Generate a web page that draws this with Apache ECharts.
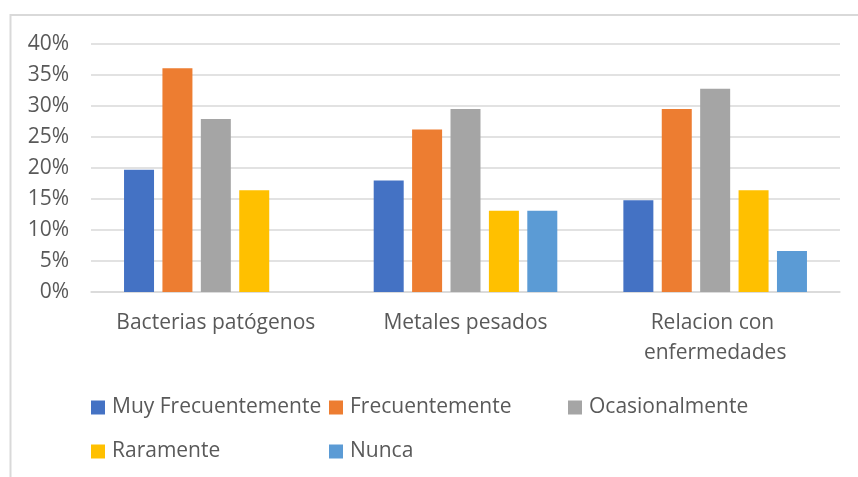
<!DOCTYPE html>
<html>
<head>
<meta charset="utf-8">
<script src="https://cdn.jsdelivr.net/npm/echarts@6/dist/echarts.min.js"></script>
<style>
  html, body { margin: 0; padding: 0; background: #ffffff; }
  #chart { width: 858px; height: 477px; }
</style>
</head>
<body>
<div id="chart"></div>
<script>
// Survey categories (x axis)
const categories = ['Bacterias patógenos', 'Metales pesados', 'Relacion con enfermedades'];

// Share of answers per frequency level, one value per category
const muyFrecuentemente = [0.197, 0.180, 0.148];
const frecuentemente    = [0.361, 0.262, 0.295];
const ocasionalmente    = [0.279, 0.295, 0.328];
const raramente         = [0.164, 0.131, 0.164];
const nunca             = [0.000, 0.131, 0.066];

const seriesNames = ['Muy Frecuentemente', 'Frecuentemente', 'Ocasionalmente', 'Raramente', 'Nunca'];
const seriesValues = [muyFrecuentemente, frecuentemente, ocasionalmente, raramente, nunca];
const seriesColors = ['#4472C4', '#ED7D31', '#A5A5A5', '#FFC000', '#5B9BD5'];

// Value axis range
const yMin = 0;
const yMax = 0.40;
const yStep = 0.05;

const FONT = '"Open Sans", "Liberation Sans", sans-serif';
const TEXT_COLOR = '#595959';
const LINE_COLOR = '#d9d9d9';

const chart = echarts.init(document.getElementById('chart'), null, { renderer: 'canvas' });

const legendText = {
  color: TEXT_COLOR,
  fontFamily: FONT,
  fontSize: 21,
  lineHeight: 21,
  padding: [0, 0, 0, 2]
};

// Legend laid out as fixed columns, two rows
function legendColumn(names, left) {
  return {
    data: names,
    orient: 'vertical',
    left: left,
    top: 397,
    padding: 0,
    itemGap: 23,
    itemWidth: 14,
    itemHeight: 14,
    icon: 'rect',
    textStyle: legendText
  };
}

chart.setOption({
  animation: false,
  backgroundColor: '#ffffff',
  graphic: [{
    type: 'rect',
    silent: true,
    shape: { x: 10.5, y: 15, width: 900, height: 500 },
    style: { fill: null, stroke: LINE_COLOR, lineWidth: 2 }
  }],
  legend: [
    legendColumn([seriesNames[0], seriesNames[3]], 91),
    legendColumn([seriesNames[1], seriesNames[4]], 329),
    legendColumn([seriesNames[2]], 568)
  ],
  grid: {
    left: 91,
    right: 18,
    top: 44,
    bottom: 185,
    containLabel: false
  },
  xAxis: {
    type: 'category',
    data: categories,
    axisLine: { show: true, lineStyle: { color: LINE_COLOR, width: 1.5 } },
    axisTick: { show: false },
    axisLabel: {
      color: TEXT_COLOR,
      fontFamily: FONT,
      fontSize: 21,
      lineHeight: 30,
      margin: 16,
      width: 225,
      overflow: 'break',
      interval: 0
    }
  },
  yAxis: {
    type: 'value',
    min: yMin,
    max: yMax,
    interval: yStep,
    axisLine: { show: false },
    axisTick: { show: false },
    splitLine: { show: true, lineStyle: { color: LINE_COLOR, width: 1.5 } },
    axisLabel: {
      color: TEXT_COLOR,
      fontFamily: FONT,
      fontSize: 21,
      margin: 22,
      formatter: function (v) { return Math.round(v * 100) + '%'; }
    }
  },
  series: seriesNames.map(function (name, i) {
    return {
      name: name,
      type: 'bar',
      data: seriesValues[i],
      barWidth: 30,
      barGap: '28%',
      itemStyle: { color: seriesColors[i] }
    };
  })
});
</script>
</body>
</html>
